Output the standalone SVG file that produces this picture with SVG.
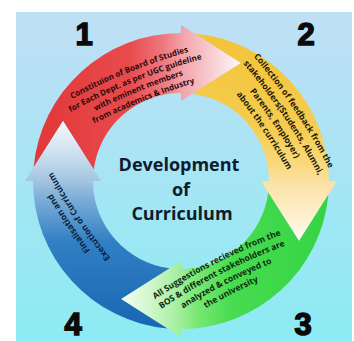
<svg xmlns="http://www.w3.org/2000/svg" width="354" height="341" viewBox="0 0 354 341">
<style>
.lbl{font-family:"Open Sans","Liberation Sans",sans-serif;font-weight:700;text-anchor:middle}
.num{font-family:"Liberation Sans",Arial,sans-serif;font-weight:700;font-size:31px;fill:#0a0a0a;stroke:#0a0a0a;stroke-width:1.5px;text-anchor:middle}
.ctr{font-family:"Open Sans","Liberation Sans",sans-serif;font-weight:700;font-size:18px;fill:#101b2b;text-anchor:middle}
</style>
<defs>
<linearGradient id="bg" x1="0" y1="0" x2="0" y2="1"><stop offset="0" stop-color="#c0dff5"/><stop offset="1" stop-color="#8cebf3"/></linearGradient>
<path id="arrow" d="M33.6 167.4 A148 148 0 0 1 181 33 L181 25 L241 63 L181 101 L181 93 A88 88 0 0 0 93.75 169.6 L63 121 Z"/>
<path id="arc" d="M-100 4.4 A600 600 0 0 1 100 4.4"/>
<linearGradient id="gR" gradientUnits="userSpaceOnUse" x1="40" y1="0" x2="241" y2="0">
<stop offset="0" stop-color="#e2383a"/><stop offset="0.45" stop-color="#e84b4d"/><stop offset="0.62" stop-color="#ee7b82"/><stop offset="0.72" stop-color="#f3a7ae"/><stop offset="0.86" stop-color="#f8d0d4"/><stop offset="1" stop-color="#fff7f7"/></linearGradient>
<linearGradient id="gY" gradientUnits="userSpaceOnUse" x1="40" y1="0" x2="241" y2="0">
<stop offset="0" stop-color="#f3c43a"/><stop offset="0.45" stop-color="#f6cd52"/><stop offset="0.62" stop-color="#f9d97d"/><stop offset="0.72" stop-color="#fbe2a6"/><stop offset="0.86" stop-color="#fdeecb"/><stop offset="1" stop-color="#fffbf3"/></linearGradient>
<linearGradient id="gG" gradientUnits="userSpaceOnUse" x1="40" y1="0" x2="241" y2="0">
<stop offset="0" stop-color="#36d445"/><stop offset="0.45" stop-color="#48dc50"/><stop offset="0.62" stop-color="#78e774"/><stop offset="0.72" stop-color="#a6efa0"/><stop offset="0.86" stop-color="#d2f7cc"/><stop offset="1" stop-color="#f5fff3"/></linearGradient>
<linearGradient id="gB" gradientUnits="userSpaceOnUse" x1="40" y1="0" x2="241" y2="0">
<stop offset="0" stop-color="#1a68b3"/><stop offset="0.4" stop-color="#3180c4"/><stop offset="0.6" stop-color="#78aad6"/><stop offset="0.72" stop-color="#a9c9e3"/><stop offset="0.86" stop-color="#d3e4f1"/><stop offset="1" stop-color="#f4f8fb"/></linearGradient>
</defs>
<rect x="0" y="0" width="354" height="341" fill="#ffffff"/>
<rect x="16" y="12" width="336" height="329" fill="url(#bg)"/>

<g id="step1">
<use href="#arrow" fill="url(#gR)"/>
<g class="lbl" font-size="8.1" fill="#2e0a0a">
<text transform="translate(130.5 76) rotate(-22)"><textPath href="#arc" startOffset="50%">Constituion of Board of Studies</textPath></text>
<text transform="translate(136.2 85.4) rotate(-22)"><textPath href="#arc" startOffset="50%">for Each Dept. as per UGC guideline</textPath></text>
<text transform="translate(140.2 95.1) rotate(-22)"><textPath href="#arc" startOffset="50%">with eminent members</textPath></text>
<text transform="translate(145.1 104.6) rotate(-22)"><textPath href="#arc" startOffset="50%">from academics &amp; Industry</textPath></text>
</g>
<text class="num" x="84" y="45">1</text>
</g>

<g id="step2">
<use href="#arrow" fill="url(#gY)" transform="rotate(90 181 181)"/>
<g class="lbl" font-size="8.6" fill="#231a05">
<text transform="translate(291 112.5) rotate(56)"><textPath href="#arc" startOffset="50%">Collection of feedback from the</textPath></text>
<text transform="translate(280.6 119.5) rotate(56)"><textPath href="#arc" startOffset="50%">stakeholders(Students, Alumni,</textPath></text>
<text transform="translate(270.3 126.5) rotate(56)"><textPath href="#arc" startOffset="50%">Parents, Employer)</textPath></text>
<text transform="translate(259.9 133.5) rotate(56)"><textPath href="#arc" startOffset="50%">about the curriculum</textPath></text>
</g>
<text class="num" x="306" y="45">2</text>
</g>

<g id="step3">
<use href="#arrow" fill="url(#gG)" transform="rotate(180 181 181)"/>
<g class="lbl" font-size="8.5" fill="#0b2a0d">
<text transform="translate(218 267) rotate(-27)"><textPath href="#arc" startOffset="50%">All Suggestions recieved from the</textPath></text>
<text transform="translate(223.2 277.2) rotate(-27)"><textPath href="#arc" startOffset="50%">BOS &amp; different stakeholders are</textPath></text>
<text transform="translate(228.4 287.4) rotate(-27)"><textPath href="#arc" startOffset="50%">analyzed &amp; conveyed to</textPath></text>
<text transform="translate(233.6 297.6) rotate(-27)"><textPath href="#arc" startOffset="50%">the university</textPath></text>
</g>
<text class="num" x="303" y="335" font-size="29">3</text>
</g>

<g id="step4">
<use href="#arrow" fill="url(#gB)" transform="rotate(270 181 181)"/>
<g class="lbl" font-size="8.6" fill="#0a1f3a">
<text transform="translate(73.6 220.3) rotate(-124)"><textPath href="#arc" startOffset="50%">Finalisation and</textPath></text>
<text transform="translate(83 214) rotate(-124)"><textPath href="#arc" startOffset="50%">Execution of Curriculum</textPath></text>
</g>
<text class="num" x="73" y="335" font-size="29">4</text>
</g>

<g id="center">
<text class="ctr" x="179" y="171">Development</text>
<text class="ctr" x="181" y="196">of</text>
<text class="ctr" x="182" y="220">Curriculum</text>
</g>
</svg>
